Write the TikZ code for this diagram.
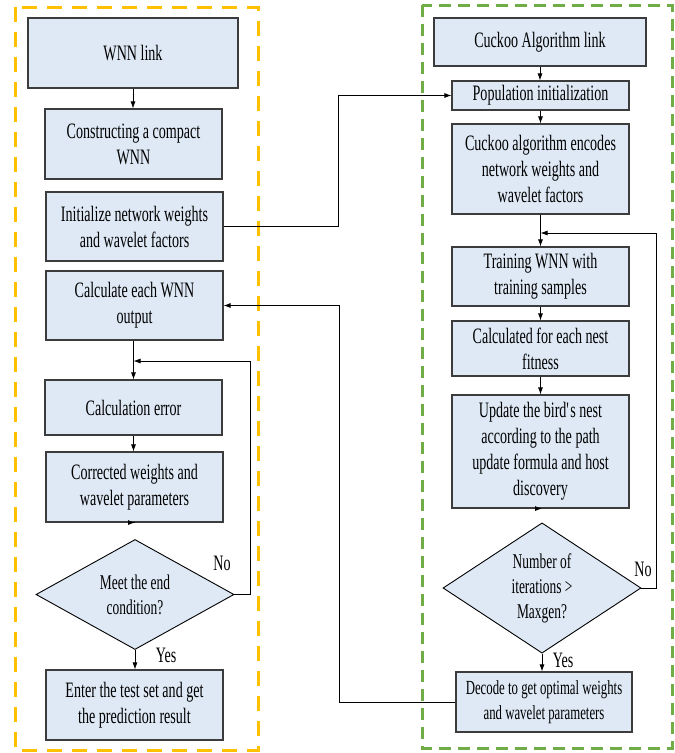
\documentclass[tikz,border=0pt]{standalone}
\usepackage{fontspec}
\setmainfont[FakeStretch=0.64]{Liberation Serif}
\usetikzlibrary{shapes.geometric,arrows.meta}
\definecolor{boxfill}{RGB}{222,233,245}
\definecolor{boxline}{RGB}{60,60,60}
\definecolor{wnnframe}{RGB}{255,192,0}
\definecolor{cuckooframe}{RGB}{112,173,71}
\tikzset{
  stepbox/.style={draw=boxline, fill=boxfill, line width=1.1pt, inner sep=0pt,
    align=center, font=\fontsize{22}{26}\selectfont},
  decision/.style={diamond, draw=black, fill=boxfill, line width=0.9pt, inner sep=0pt,
    align=center, font=\fontsize{21}{25}\selectfont},
  flow/.style={draw=black, line width=0.8pt, -{Latex[length=7pt,width=5pt]}},
  tag/.style={font=\fontsize{22}{26}\selectfont, inner sep=0pt},
}
\begin{document}
\begin{tikzpicture}[x=1pt,y=-1pt]
\useasboundingbox (0,0) rectangle (675,753);
\fill[white] (0,0) rectangle (675,753);

% group frames
\draw[wnnframe, line width=3pt, dash pattern=on 15pt off 10pt] (15,7) rectangle (258,750);
\draw[cuckooframe, line width=3pt, dash pattern=on 12pt off 7pt] (422,5) rectangle (672,748);

% WNN part
\node[stepbox, minimum width=210pt, minimum height=70pt] (wnn) at (133,53) {WNN link};
\node[stepbox, minimum width=177pt, minimum height=70pt] (cons) at (133.5,144) {Constructing a compact\\WNN};
\node[stepbox, minimum width=177pt, minimum height=69pt] (init) at (134.5,226.5) {Initialize network weights\\and wavelet factors};
\node[stepbox, minimum width=177pt, minimum height=69pt] (calc) at (134.5,305.5) {Calculate each WNN\\output};
\node[stepbox, minimum width=177pt, minimum height=55pt] (err) at (133.5,407.5) {Calculation error};
\node[stepbox, minimum width=177pt, minimum height=70pt] (corr) at (134.5,487) {Corrected weights and\\wavelet parameters};
\node[decision, minimum width=198pt, minimum height=107pt] (endq) at (135,594.5) {Meet the end\\condition?};
\node[stepbox, minimum width=177pt, minimum height=70pt] (test) at (134.5,705) {Enter the test set and get\\the prediction result};

% Cuckoo part
\node[stepbox, minimum width=212pt, minimum height=48pt] (ck) at (540,42) {Cuckoo Algorithm link};
\node[stepbox, minimum width=177pt, minimum height=29pt] (pop) at (540.5,95.5) {Population initialization};
\node[stepbox, minimum width=177pt, minimum height=90pt] (enc) at (540.5,169) {Cuckoo algorithm encodes\\network weights and\\wavelet factors};
\node[stepbox, minimum width=177pt, minimum height=59pt] (train) at (540.5,276.5) {Training WNN with\\training samples};
\node[stepbox, minimum width=177pt, minimum height=55pt] (fit) at (540.5,348.5) {Calculated for each nest\\fitness};
\node[stepbox, minimum width=177pt, minimum height=113pt] (upd) at (540.5,451.5) {Update the bird\textquotesingle s nest\\according to the path\\update formula and host\\discovery};
\node[decision, minimum width=198pt, minimum height=120pt] (iterq) at (542,588) {Number of\\iterations >\\Maxgen?};
\node[stepbox, minimum width=176pt, minimum height=60pt, font=\fontsize{20}{25}\selectfont] (dec) at (544,702) {Decode to get optimal weights\\and wavelet parameters};

% junction points of the loops and cross links
\coordinate (loopA) at (250,361);
\coordinate (loopB) at (656,233);
\coordinate (crossA) at (338,0);
\coordinate (crossB) at (339,0);

% WNN flow
\draw[flow] (wnn.south) -- (wnn.south |- cons.north);
\draw[flow] (calc.south -| err.north) -- (err.north);
\draw[flow] (err.south) -- (err.south |- corr.north);
\draw[flow] (corr.south) -- (corr.south -| endq.north);
\draw[flow] (endq.south) -- (endq.south |- test.north);
\draw[flow] (endq.east) -| (loopA) -- (err.north |- loopA);

% Cuckoo flow
\draw[flow] (ck.south) -- (ck.south |- pop.north);
\draw[flow] (pop.south) -- (pop.south |- enc.north);
\draw[flow] (enc.south) -- (enc.south |- train.north);
\draw[flow] (train.south) -- (train.south |- fit.north);
\draw[flow] (fit.south) -- (fit.south |- upd.north);
\draw[flow] (upd.south) -- (upd.south -| iterq.north);
\draw[flow] (iterq.south) -- (iterq.south |- dec.north);
\draw[flow] (iterq.east) -| (loopB) -- (enc.south |- loopB);

% links between the two parts
\draw[flow] (init.east) -| (crossA |- pop.west) -- (pop.west);
\draw[flow] (dec.west) -| (crossB |- calc.east) -- (calc.east);

% branch labels
\node[tag] (noA) at (222,563) {No};
\node[tag] (yesA) at (166,655) {Yes};
\node[tag] (noB) at (643,569) {No};
\node[tag] (yesB) at (563,660) {Yes};
\end{tikzpicture}
\end{document}
